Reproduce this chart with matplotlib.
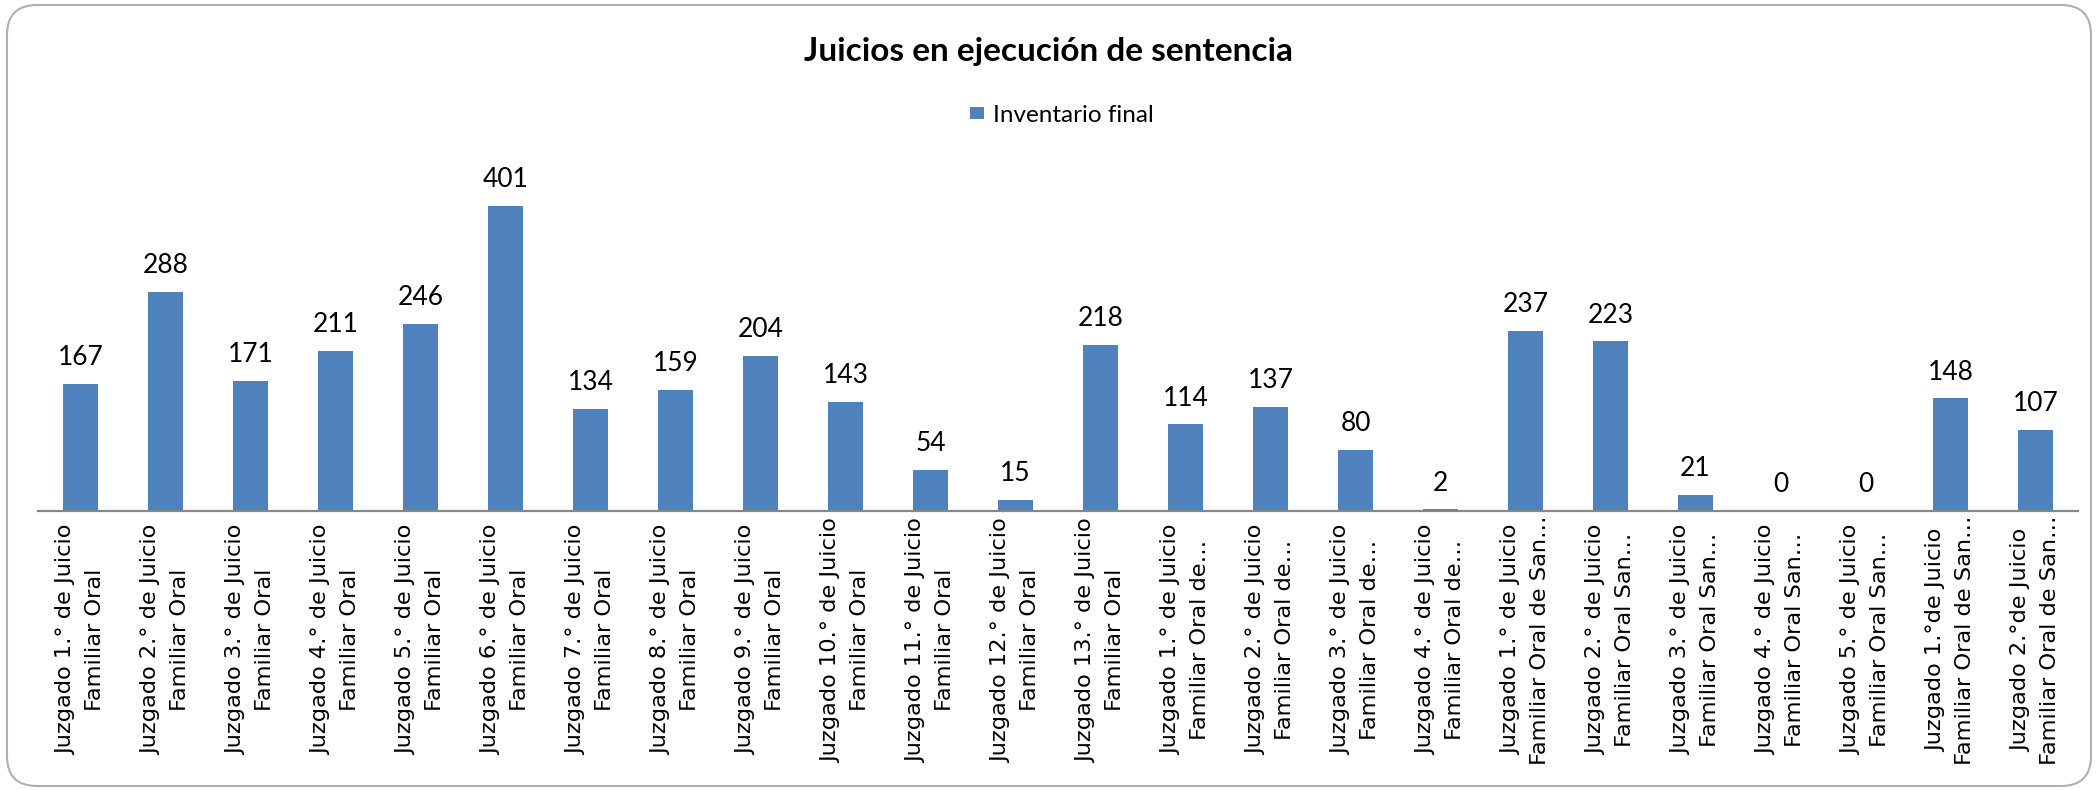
#!/usr/bin/env python3
#

import matplotlib
matplotlib.use('Agg')
import matplotlib.pyplot as plt
from matplotlib.patches import FancyBboxPatch
import numpy as np

title = 'Juicios en ejecución de sentencia'
series_name = 'Inventario final'

juzgados = [
    'Juzgado 1.° de Juicio\nFamiliar Oral',
    'Juzgado 2.° de Juicio\nFamiliar Oral',
    'Juzgado 3.° de Juicio\nFamiliar Oral',
    'Juzgado 4.° de Juicio\nFamiliar Oral',
    'Juzgado 5.° de Juicio\nFamiliar Oral',
    'Juzgado 6.° de Juicio\nFamiliar Oral',
    'Juzgado 7.° de Juicio\nFamiliar Oral',
    'Juzgado 8.° de Juicio\nFamiliar Oral',
    'Juzgado 9.° de Juicio\nFamiliar Oral',
    'Juzgado 10.° de Juicio\nFamiliar Oral',
    'Juzgado 11.° de Juicio\nFamiliar Oral',
    'Juzgado 12.° de Juicio\nFamiliar Oral',
    'Juzgado 13.° de Juicio\nFamiliar Oral',
    'Juzgado 1.° de Juicio\nFamiliar Oral de…',
    'Juzgado 2.° de Juicio\nFamiliar Oral de…',
    'Juzgado 3.° de Juicio\nFamiliar Oral de…',
    'Juzgado 4.° de Juicio\nFamiliar Oral de…',
    'Juzgado 1.° de Juicio\nFamiliar Oral de San…',
    'Juzgado 2.° de Juicio\nFamiliar Oral San…',
    'Juzgado 3.° de Juicio\nFamiliar Oral San…',
    'Juzgado 4.° de Juicio\nFamiliar Oral San…',
    'Juzgado 5.° de Juicio\nFamiliar Oral San…',
    'Juzgado 1.°de Juicio\nFamiliar Oral de San…',
    'Juzgado 2.°de Juicio\nFamiliar Oral de San…',
]
inventario = [167, 288, 171, 211, 246, 401, 134, 159, 204, 143, 54, 15,
              218, 114, 137, 80, 2, 237, 223, 21, 0, 0, 148, 107]

W, H = 2097, 790
fig = plt.figure(figsize=(W / 100, H / 100), dpi=100)

# plot area in pixels (left, top, right, bottom)
left, top, right, bottom = 38, 150, 2078, 511
ax = fig.add_axes([left / W, 1 - bottom / H, (right - left) / W, (bottom - top) / H])

x = np.arange(len(inventario))
bars = ax.bar(x, inventario, width=0.41, color='#4F81BD', label=series_name)

for xi, v in zip(x, inventario):
    ax.annotate(str(v), (xi, v), xytext=(0, 13.5), textcoords='offset points',
                ha='center', va='baseline', fontsize=19, family=['Lato', 'DejaVu Sans'])

ax.set_xlim(-0.5, len(inventario) - 0.5)
ax.set_ylim(0, 474.6)
ax.set_xticks(x)
ax.set_xticklabels(juzgados, rotation=90, fontsize=16.2, family='DejaVu Sans',
                   va='center', multialignment='center', linespacing=1.6)
# labels centred about 130 px below the axis line
ax.tick_params(axis='x', length=0, pad=93)
ax.set_yticks([])
for s in ['top', 'right', 'left']:
    ax.spines[s].set_visible(False)
ax.spines['bottom'].set_color('#868686')
ax.spines['bottom'].set_linewidth(1.6)

fig.text(1048 / W, 1 - 52 / H, title, ha='center', va='center',
         fontsize=24, fontweight='bold', family=['Lato', 'DejaVu Sans'])

fig.legend(handles=[bars], labels=[series_name], loc='center',
           bbox_to_anchor=(1062 / W, 1 - 115 / H), frameon=False,
           handlelength=0.576, handleheight=0.415, handletextpad=0.35,
           prop={'family': ['Lato', 'DejaVu Sans'], 'size': 17.5})

# rounded chart border
border = FancyBboxPatch((0.07, 0.04), 20.84, 7.81,
                        boxstyle='round,pad=0,rounding_size=0.3',
                        transform=fig.dpi_scale_trans, facecolor='none',
                        edgecolor='#B0B0B0', linewidth=1.5)
fig.add_artist(border)

plt.savefig('out.png', dpi=100)
